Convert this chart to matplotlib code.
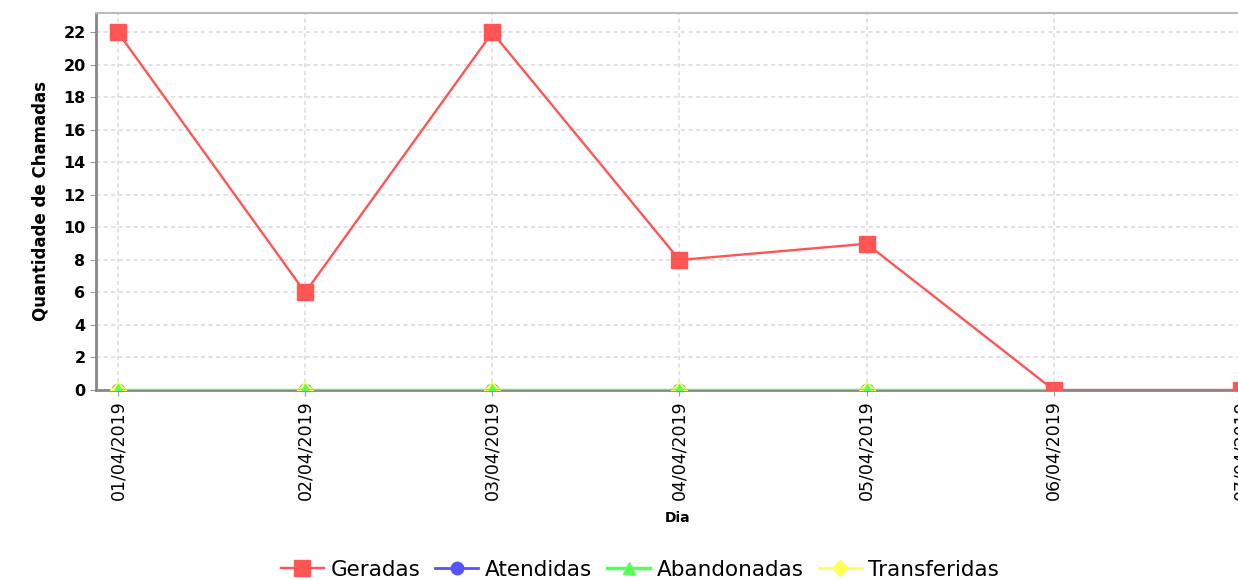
import matplotlib
matplotlib.use('Agg')
import matplotlib.pyplot as plt

# dados do grafico
dias = ['01/04/2019', '02/04/2019', '03/04/2019', '04/04/2019',
        '05/04/2019', '06/04/2019', '07/04/2019']
geradas = [22, 6, 22, 8, 9, 0, 0]
atendidas = [0, 0, 0, 0, 0, 0]
abandonadas = [0, 0, 0, 0, 0, 0]
transferidas = [0, 0, 0, 0, 0, 0]
y_ticks = list(range(0, 23, 2))

fig = plt.figure(figsize=(12.38, 5.80), dpi=100)
ax = fig.add_axes([0.0775, 0.3276, 0.94, 0.65])

x = list(range(len(dias)))
ax.plot(x[:len(atendidas)], atendidas, color='#5555FF', marker='o', ms=9,
        lw=2, label='Atendidas', zorder=3)
ax.plot(x[:len(transferidas)], transferidas, color='#FFFF55', marker='D', ms=8,
        lw=2, label='Transferidas', zorder=3)
ax.plot(x[:len(abandonadas)], abandonadas, color='#55FF55', marker='^', ms=9,
        lw=2.5, label='Abandonadas', zorder=4)
ax.plot(x, geradas, color='#FF5555', marker='s', ms=12, lw=1.7,
        label='Geradas', zorder=5)

ax.set_xlim(-0.118, 6.1)
ax.set_ylim(0, 23.2)
ax.set_yticks(y_ticks)
ax.set_xticks(x)
ax.set_xticklabels(dias, rotation=90, fontsize=12.5)
ax.tick_params(axis='y', labelsize=11.5)
for lbl in ax.get_yticklabels():
    lbl.set_fontweight('bold')
ax.tick_params(axis='both', color='#999999', length=4)

ax.grid(True, color='#dddddd', ls=(0, (2.5, 2)), lw=1.2)
ax.set_axisbelow(True)
for s in ['left', 'bottom']:
    ax.spines[s].set_color('#888888')
    ax.spines[s].set_linewidth(2)
ax.spines['top'].set_color('#bbbbbb')
ax.spines['top'].set_linewidth(1.5)
ax.spines['right'].set_visible(False)

ax.set_ylabel('Quantidade de Chamadas', fontsize=12, fontweight='bold', labelpad=10)
ax.set_xlabel('Dia', fontsize=10, fontweight='bold', labelpad=8)

handles, labels = ax.get_legend_handles_labels()
order = [3, 0, 2, 1]
fig.legend([handles[i] for i in order], [labels[i] for i in order],
           loc='center', bbox_to_anchor=(0.517, 0.018), ncol=4, frameon=False,
           fontsize=15.5, handlelength=2.0, handletextpad=0.3, columnspacing=0.7)

fig.savefig('out.png', dpi=100)
